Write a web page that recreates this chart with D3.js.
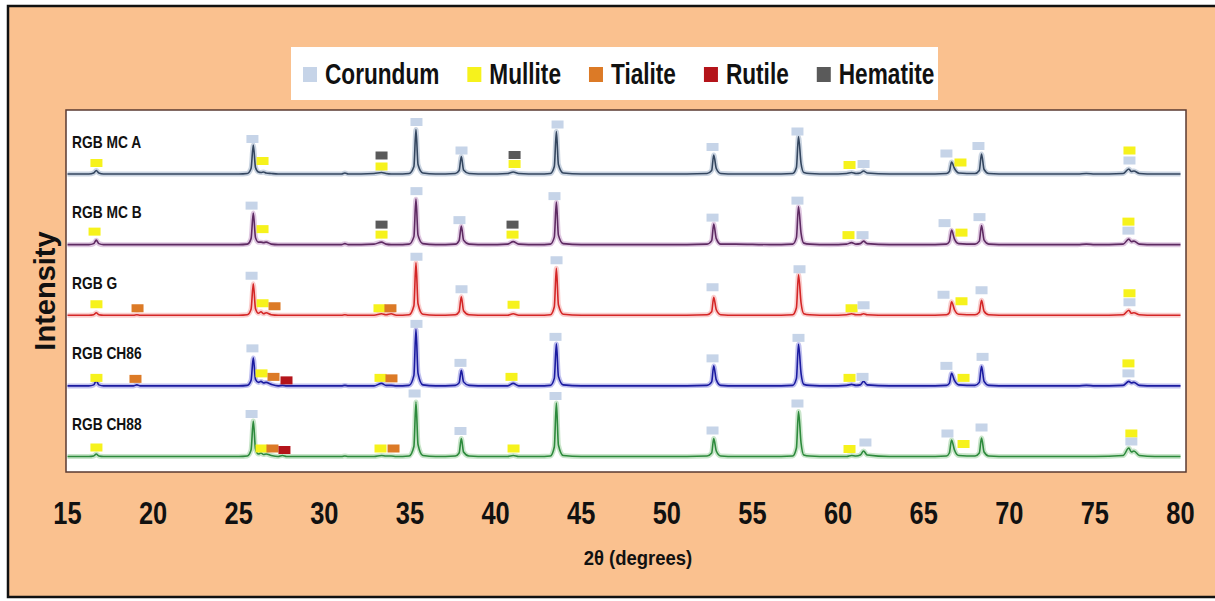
<!DOCTYPE html>
<meta charset="utf-8">
<style>
    body { margin: 0; background: #fff; }
    text { font-family: "Liberation Sans", Arial, sans-serif; font-weight: bold; fill: #111; }
    .trace { fill: none; stroke-linejoin: round; }
</style>
<body>
<script src="https://cdn.jsdelivr.net/npm/d3@7"></script>
<script>

    var width = 1215,
        height = 601;

    // 2θ positions shared by every pattern
    var twoTheta = [
        15.0, 16.25, 16.53, 16.68, 16.83, 17.1,
        18.0, 18.85, 19.05, 19.25, 21.0, 23.0, 25.0,
        25.5, 25.72, 25.85, 25.98, 26.15, 26.3, 26.45, 26.6, 26.9, 27.3, 27.55, 27.8,
        29.0, 31.0, 31.2, 31.4, 32.9, 33.34, 33.6, 33.9, 34.2,
        34.95, 35.23, 35.35, 35.47, 35.75, 36.5,
        37.65, 37.87, 38.0, 38.13, 38.45, 39.5, 40.7, 41.03, 41.35, 42.5,
        43.2, 43.43, 43.55, 43.67, 43.95, 45.0, 48.0, 50.0,
        52.35, 52.62, 52.74, 52.89, 53.15, 54.0, 56.0,
        57.35, 57.57, 57.69, 57.84, 58.0, 58.35, 59.5,
        60.5, 60.79, 61.05, 61.3, 61.49, 61.7, 63.0, 65.0,
        66.33, 66.5, 66.63, 66.8, 67.05, 68.0, 68.25, 68.38, 68.53, 68.8, 70.0,
        72.0, 74.0, 74.5, 75.0, 76.65, 76.98, 77.13, 77.28, 77.6, 78.5, 80.0
    ];

    // relative intensity of each sample at those positions
    var mcA = [
        1, 1, 3, 8, 3, 1,
        1, 1, 1, 1, 1, 1, 1,
        2, 12, 59, 14, 5, 4, 5, 3, 2, 1, 1, 1,
        1, 1, 3, 1, 2, 4, 2, 1, 1,
        2, 16, 90, 20, 3, 1,
        2, 8, 36, 9, 2, 1, 2, 5, 2, 1,
        2, 16, 86, 20, 3, 1, 1, 1,
        2, 8, 39, 12, 2, 1, 1,
        2, 14, 76, 22, 4, 2, 1,
        2, 4, 2, 3, 7, 3, 1, 1,
        2, 6, 25, 12, 3, 2, 8, 41, 10, 2, 1,
        1, 1, 2, 1, 2, 11, 6, 7, 2, 1, 1
    ];
    var mcB = [
        1, 1, 3, 10, 3, 1,
        1, 1, 1, 1, 1, 1, 1,
        2, 13, 64, 15, 6, 6, 5, 6, 2, 1, 1, 1,
        1, 1, 3, 1, 2, 6, 2, 1, 1,
        2, 17, 92, 20, 3, 1,
        2, 9, 38, 10, 2, 1, 2, 7, 2, 1,
        2, 16, 86, 20, 3, 1, 1, 1,
        2, 9, 42, 13, 2, 2, 1,
        2, 15, 77, 24, 4, 2, 1,
        2, 5, 2, 3, 8, 3, 1, 1,
        2, 7, 30, 12, 3, 2, 8, 39, 10, 2, 1,
        1, 1, 2, 1, 2, 12, 7, 8, 2, 1, 1
    ];
    var rgbG = [
        1, 1, 2, 6, 2, 1,
        1, 1, 2, 1, 1, 1, 1,
        2, 13, 64, 14, 5, 8, 4, 6, 2, 1, 1, 1,
        1, 1, 2, 1, 1, 4, 2, 4, 1,
        2, 20, 106, 24, 3, 1,
        2, 8, 38, 10, 2, 1, 1, 4, 1, 1,
        2, 18, 95, 22, 3, 1, 1, 1,
        2, 8, 37, 12, 2, 1, 1,
        2, 16, 82, 26, 4, 2, 1,
        2, 4, 2, 2, 4, 2, 1, 1,
        2, 6, 28, 12, 3, 2, 7, 31, 9, 2, 1,
        1, 1, 1, 1, 2, 11, 5, 6, 2, 1, 1
    ];
    var ch86 = [
        1, 1, 3, 11, 3, 1,
        1, 1, 3, 1, 1, 1, 1,
        2, 12, 57, 14, 8, 10, 7, 8, 4, 1, 2, 1,
        1, 1, 2, 1, 1, 6, 2, 2, 1,
        2, 22, 114, 26, 3, 1,
        2, 7, 32, 9, 2, 1, 1, 6, 1, 1,
        2, 16, 85, 20, 3, 1, 1, 1,
        2, 9, 41, 13, 2, 1, 1,
        2, 16, 84, 26, 4, 2, 1,
        2, 4, 2, 3, 10, 3, 1, 1,
        2, 6, 26, 12, 3, 2, 8, 40, 10, 2, 1,
        1, 1, 2, 1, 2, 10, 7, 8, 2, 1, 1
    ];
    var ch88 = [
        1, 1, 2, 6, 2, 1,
        1, 1, 1, 1, 1, 1, 1,
        2, 14, 72, 16, 6, 8, 5, 6, 3, 1, 3, 1,
        1, 1, 2, 1, 1, 3, 2, 2, 1,
        2, 21, 110, 25, 3, 1,
        2, 8, 37, 10, 2, 1, 1, 3, 1, 1,
        2, 20, 108, 24, 3, 1, 1, 1,
        2, 8, 37, 12, 2, 1, 1,
        2, 18, 91, 28, 4, 2, 1,
        1, 3, 2, 4, 12, 4, 1, 1,
        2, 8, 34, 14, 3, 2, 8, 38, 10, 2, 1,
        1, 1, 1, 1, 3, 18, 10, 12, 3, 1, 1
    ];

    // phase markers: [phase, 2θ, level above the pattern baseline]
    var marksMcA = [
        ["M", 16.69, 23], ["C", 25.80, 71], ["M", 26.39, 27], ["H", 33.34, 38], ["M", 33.34, 16],
        ["C", 35.38, 105], ["C", 38.01, 48], ["H", 41.11, 39], ["M", 41.11, 21], ["C", 43.62, 100],
        ["C", 52.67, 55], ["C", 57.63, 86], ["M", 60.67, 19], ["C", 61.49, 21], ["C", 66.33, 42],
        ["M", 67.15, 24], ["C", 68.20, 57], ["M", 77.02, 48], ["C", 77.02, 28]
    ];
    var marksMcB = [
        ["M", 16.58, 27], ["C", 25.75, 79], ["M", 26.39, 32], ["H", 33.34, 41], ["M", 33.34, 21],
        ["C", 35.38, 108], ["C", 37.89, 50], ["H", 40.99, 41], ["M", 40.99, 21], ["C", 43.44, 98],
        ["C", 52.67, 55], ["C", 57.63, 89], ["M", 60.61, 20], ["C", 61.43, 20], ["C", 66.22, 44],
        ["M", 67.21, 25], ["C", 68.26, 56], ["M", 76.96, 47], ["C", 76.96, 29]
    ];
    var marksG = [
        ["M", 16.69, 23], ["T", 19.09, 15], ["C", 25.75, 80], ["M", 26.39, 25], ["T", 27.09, 19],
        ["M", 33.22, 15], ["T", 33.86, 15], ["C", 35.38, 118], ["C", 38.01, 53], ["M", 41.05, 22],
        ["C", 43.56, 111], ["C", 52.67, 57], ["C", 57.75, 93], ["M", 60.79, 15], ["C", 61.49, 21],
        ["C", 66.16, 42], ["M", 67.21, 29], ["C", 68.38, 51], ["M", 77.02, 45], ["C", 77.02, 27]
    ];
    var marksCh86 = [
        ["M", 16.69, 17], ["T", 18.97, 15], ["C", 25.80, 76], ["M", 26.33, 26], ["T", 27.03, 19],
        ["R", 27.79, 12], ["M", 33.28, 17], ["T", 33.92, 16], ["C", 35.38, 125], ["C", 37.95, 47],
        ["M", 40.93, 19], ["C", 43.50, 99], ["C", 52.67, 56], ["C", 57.69, 97], ["M", 60.67, 17],
        ["C", 61.43, 19], ["C", 66.33, 41], ["M", 67.33, 17], ["C", 68.44, 59], ["M", 76.96, 46],
        ["C", 76.96, 26]
    ];
    var marksCh88 = [
        ["M", 16.69, 19], ["C", 25.75, 86], ["M", 26.33, 17], ["T", 26.97, 17], ["R", 27.67, 14],
        ["M", 33.28, 17], ["T", 34.04, 17], ["C", 35.27, 127], ["C", 37.95, 52], ["M", 41.05, 17],
        ["C", 43.50, 122], ["C", 52.67, 53], ["C", 57.63, 107], ["M", 60.67, 16], ["C", 61.60, 29],
        ["C", 66.39, 47], ["M", 67.33, 26], ["C", 68.38, 59], ["M", 77.13, 47], ["C", 77.13, 31]
    ];

    var sampleNames = ["RGB MC A", "RGB MC B", "RGB G", "RGB CH86", "RGB CH88"];
    var sampleData = [mcA, mcB, rgbG, ch86, ch88];
    var sampleMarks = [marksMcA, marksMcB, marksG, marksCh86, marksCh88];
    var lineColors = ["#34465f", "#5e2a62", "#d42626", "#1b1ba0", "#2d8a3c"];
    var haloColors = ["#9fb0c8", "#c49ac8", "#f4a6a6", "#8c8ce0", "#9ccf9f"];

    var phaseKeys = ["C", "M", "T", "R", "H"];
    var phaseNames = ["Corundum", "Mullite", "Tialite", "Rutile", "Hematite"];
    var phaseColors = ["#c6d4e8", "#f6f21c", "#dc7a26", "#b4141a", "#5a5a5a"];

    var xTicks = [15, 20, 25, 30, 35, 40, 45, 50, 55, 60, 65, 70, 75, 80];

    var x = d3.scaleLinear()
        .domain([15, 80])
        .range([67.5, 1180.5]);

    var baseY = d3.scalePoint()
        .domain(sampleNames)
        .range([174.5, 457]);

    var level = d3.scaleLinear()
        .domain([0, 100])
        .range([0, -50]);

    var phaseColor = d3.scaleOrdinal()
        .domain(phaseKeys)
        .range(phaseColors);

    var svg = d3.select("body").append("svg")
        .attr("width", width)
        .attr("height", height);

    // outer frame
    svg.append("rect")
        .attr("x", 8).attr("y", 6)
        .attr("width", 1230).attr("height", 591)
        .attr("fill", "#fac18f")
        .attr("stroke", "#111")
        .attr("stroke-width", 2.5);

    // plot area
    svg.append("rect")
        .attr("x", 66).attr("y", 110)
        .attr("width", 1120).attr("height", 362)
        .attr("fill", "#fff")
        .attr("stroke", "#5a3a32")
        .attr("stroke-width", 1.5);

    // squeeze text horizontally, like the condensed font of the original
    function condense(sel, k) {
        sel.each(function() {
            var w = this.getComputedTextLength();
            d3.select(this).attr("textLength", w * k).attr("lengthAdjust", "spacingAndGlyphs");
        });
    }

    // patterns
    sampleNames.forEach(function(name, i) {
        var b = baseY(name);
        var pts = twoTheta.map(function(t, j) { return [t, sampleData[i][j]]; });
        var line = d3.line()
            .x(function(d) { return x(d[0]); })
            .y(function(d) { return b + level(d[1]); })
            .curve(d3.curveMonotoneX);

        svg.append("path").attr("class", "trace")
            .attr("d", line(pts))
            .attr("stroke", haloColors[i])
            .attr("stroke-width", 5)
            .attr("stroke-opacity", 0.55);
        svg.append("path").attr("class", "trace")
            .attr("d", line(pts))
            .attr("stroke", lineColors[i])
            .attr("stroke-width", 1.6);

        svg.selectAll(null)
            .data(sampleMarks[i])
            .enter().append("rect")
            .attr("x", function(d) { return x(d[1]) - 6; })
            .attr("y", function(d) { return b + level(d[2]) - 4; })
            .attr("width", 12)
            .attr("height", 8)
            .attr("fill", function(d) { return phaseColor(d[0]); });

        svg.append("text")
            .attr("x", 72)
            .attr("y", b - 27)
            .style("font-size", "17px")
            .text(name)
            .call(condense, 0.81);
    });

    // x axis labels
    svg.selectAll(".tick-label")
        .data(xTicks)
        .enter().append("text")
        .attr("class", "tick-label")
        .attr("x", function(d) { return x(d); })
        .attr("y", 524)
        .attr("text-anchor", "middle")
        .style("font-size", "31px")
        .text(function(d) { return d; })
        .call(condense, 0.82);

    svg.append("text")
        .attr("x", 638)
        .attr("y", 565)
        .attr("text-anchor", "middle")
        .style("font-size", "21px")
        .text("2θ (degrees)")
        .call(condense, 0.88);

    svg.append("text")
        .attr("transform", "translate(55,291) rotate(-90)")
        .attr("text-anchor", "middle")
        .style("font-size", "29px")
        .text("Intensity");

    // legend
    svg.append("rect")
        .attr("x", 291).attr("y", 47)
        .attr("width", 647).attr("height", 53)
        .attr("fill", "#fff");

    var lx = 303;
    phaseKeys.forEach(function(k, i) {
        svg.append("rect")
            .attr("x", lx).attr("y", 67)
            .attr("width", 14).attr("height", 15)
            .attr("fill", phaseColor(k));
        var t = svg.append("text")
            .attr("x", lx + 22)
            .attr("y", 84)
            .style("font-size", "29px")
            .text(phaseNames[i]);
        var w = t.node().getComputedTextLength() * 0.78;
        t.attr("textLength", w).attr("lengthAdjust", "spacingAndGlyphs");
        lx += 22 + w + 28;
    });

</script>
